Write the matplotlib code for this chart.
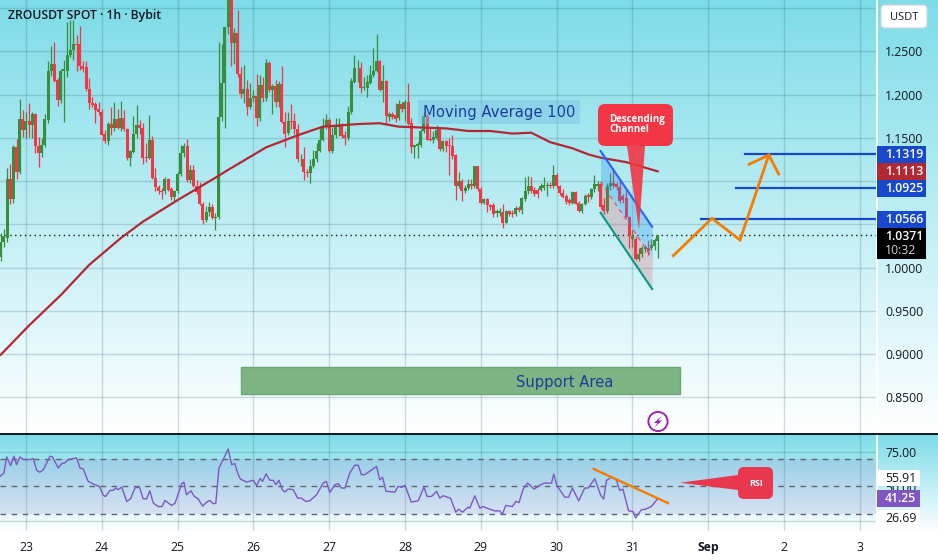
import matplotlib
matplotlib.use('Agg')
import matplotlib.pyplot as plt
import numpy as np
from matplotlib.patches import FancyBboxPatch, Polygon, Rectangle, Circle

plt.rcParams['font.family'] = ['Open Sans', 'DejaVu Sans']

# hourly candles, first one is 8h before the 23rd
opens = [1.012, 1.030, 1.034, 1.102, 1.079, 1.140, 1.111, 1.172, 1.159, 1.169,
         1.165, 1.178, 1.141, 1.133, 1.142, 1.171, 1.227, 1.235, 1.217, 1.194,
         1.227, 1.227, 1.246, 1.252, 1.259, 1.259, 1.233, 1.232, 1.207, 1.190,
         1.189, 1.183, 1.180, 1.154, 1.146, 1.166, 1.162, 1.172, 1.162, 1.173,
         1.160, 1.127, 1.134, 1.154, 1.165, 1.161, 1.128, 1.127, 1.148, 1.104,
         1.093, 1.089, 1.088, 1.102, 1.091, 1.082, 1.088, 1.108, 1.132, 1.141,
         1.101, 1.113, 1.094, 1.093, 1.074, 1.055, 1.064, 1.070, 1.057, 1.058,
         1.174, 1.213, 1.278, 1.320, 1.260, 1.271, 1.224, 1.201, 1.207, 1.186,
         1.196, 1.198, 1.173, 1.211, 1.196, 1.237, 1.205, 1.210, 1.191, 1.212,
         1.168, 1.156, 1.169, 1.169, 1.160, 1.125, 1.126, 1.111, 1.109, 1.117,
         1.125, 1.135, 1.148, 1.164, 1.171, 1.135, 1.153, 1.163, 1.165, 1.153,
         1.150, 1.180, 1.215, 1.231, 1.231, 1.208, 1.208, 1.214, 1.223, 1.228,
         1.239, 1.206, 1.216, 1.174, 1.178, 1.177, 1.173, 1.189, 1.183, 1.192,
         1.167, 1.139, 1.141, 1.142, 1.158, 1.175, 1.149, 1.147, 1.150, 1.160,
         1.137, 1.146, 1.142, 1.141, 1.130, 1.094, 1.100, 1.088, 1.092, 1.097,
         1.094, 1.117, 1.091, 1.075, 1.079, 1.072, 1.072, 1.063, 1.063, 1.064,
         1.052, 1.065, 1.063, 1.062, 1.069, 1.067, 1.079, 1.088, 1.094, 1.090,
         1.090, 1.090, 1.092, 1.094, 1.095, 1.094, 1.107, 1.094, 1.086, 1.083,
         1.078, 1.075, 1.087, 1.075, 1.065, 1.074, 1.084, 1.082, 1.091, 1.094,
         1.097, 1.072, 1.065, 1.094, 1.098, 1.097, 1.093, 1.083, 1.080, 1.059,
         1.033, 1.033, 1.010, 1.016, 1.021, 1.023, 1.022, 1.025, 1.031]
highs = [1.040, 1.045, 1.115, 1.120, 1.142, 1.149, 1.195, 1.182, 1.180, 1.190,
         1.180, 1.179, 1.151, 1.150, 1.178, 1.239, 1.256, 1.261, 1.219, 1.230,
         1.240, 1.284, 1.286, 1.286, 1.269, 1.279, 1.239, 1.239, 1.219, 1.197,
         1.192, 1.192, 1.184, 1.159, 1.168, 1.186, 1.192, 1.184, 1.193, 1.182,
         1.161, 1.136, 1.175, 1.188, 1.171, 1.167, 1.144, 1.176, 1.152, 1.115,
         1.095, 1.092, 1.105, 1.104, 1.093, 1.090, 1.110, 1.142, 1.144, 1.149,
         1.119, 1.119, 1.101, 1.099, 1.076, 1.071, 1.076, 1.073, 1.063, 1.261,
         1.259, 1.278, 1.330, 1.335, 1.277, 1.298, 1.232, 1.234, 1.217, 1.213,
         1.205, 1.224, 1.223, 1.220, 1.241, 1.239, 1.212, 1.217, 1.216, 1.233,
         1.180, 1.180, 1.189, 1.179, 1.166, 1.131, 1.140, 1.114, 1.126, 1.136,
         1.144, 1.161, 1.173, 1.178, 1.173, 1.163, 1.173, 1.173, 1.167, 1.158,
         1.187, 1.219, 1.246, 1.240, 1.238, 1.220, 1.223, 1.234, 1.254, 1.270,
         1.240, 1.234, 1.217, 1.180, 1.180, 1.190, 1.194, 1.192, 1.194, 1.213,
         1.173, 1.142, 1.145, 1.160, 1.180, 1.178, 1.161, 1.158, 1.165, 1.161,
         1.148, 1.148, 1.150, 1.153, 1.131, 1.111, 1.102, 1.096, 1.103, 1.102,
         1.118, 1.118, 1.093, 1.081, 1.081, 1.074, 1.075, 1.068, 1.069, 1.074,
         1.067, 1.067, 1.066, 1.071, 1.071, 1.082, 1.105, 1.106, 1.105, 1.093,
         1.092, 1.098, 1.105, 1.099, 1.099, 1.119, 1.109, 1.096, 1.091, 1.085,
         1.080, 1.088, 1.088, 1.077, 1.075, 1.085, 1.086, 1.092, 1.107, 1.100,
         1.099, 1.080, 1.098, 1.109, 1.115, 1.099, 1.103, 1.085, 1.090, 1.060,
         1.043, 1.036, 1.022, 1.025, 1.026, 1.032, 1.033, 1.034, 1.038]
lows = [1.008, 1.024, 1.030, 1.074, 1.075, 1.103, 1.108, 1.151, 1.150, 1.151,
        1.150, 1.132, 1.116, 1.128, 1.140, 1.167, 1.222, 1.215, 1.187, 1.190,
        1.168, 1.221, 1.244, 1.240, 1.228, 1.229, 1.226, 1.204, 1.184, 1.186,
        1.167, 1.177, 1.153, 1.144, 1.142, 1.153, 1.158, 1.160, 1.158, 1.158,
        1.124, 1.118, 1.132, 1.150, 1.155, 1.120, 1.122, 1.125, 1.103, 1.088,
        1.085, 1.079, 1.085, 1.088, 1.078, 1.077, 1.086, 1.106, 1.128, 1.099,
        1.098, 1.093, 1.085, 1.072, 1.050, 1.053, 1.060, 1.056, 1.043, 1.056,
        1.170, 1.161, 1.270, 1.233, 1.235, 1.220, 1.196, 1.190, 1.176, 1.183,
        1.192, 1.164, 1.170, 1.192, 1.193, 1.203, 1.178, 1.186, 1.186, 1.167,
        1.140, 1.153, 1.160, 1.155, 1.122, 1.118, 1.101, 1.105, 1.098, 1.115,
        1.122, 1.134, 1.146, 1.160, 1.134, 1.133, 1.150, 1.152, 1.150, 1.142,
        1.148, 1.178, 1.213, 1.215, 1.202, 1.206, 1.197, 1.212, 1.221, 1.226,
        1.204, 1.192, 1.166, 1.170, 1.172, 1.168, 1.171, 1.180, 1.170, 1.165,
        1.133, 1.127, 1.127, 1.140, 1.156, 1.147, 1.146, 1.144, 1.148, 1.135,
        1.135, 1.134, 1.107, 1.126, 1.078, 1.092, 1.077, 1.086, 1.090, 1.091,
        1.092, 1.088, 1.074, 1.073, 1.064, 1.066, 1.059, 1.058, 1.060, 1.046,
        1.051, 1.060, 1.058, 1.060, 1.064, 1.062, 1.077, 1.085, 1.086, 1.083,
        1.080, 1.088, 1.090, 1.083, 1.092, 1.092, 1.092, 1.084, 1.081, 1.074,
        1.072, 1.074, 1.073, 1.064, 1.063, 1.072, 1.076, 1.079, 1.087, 1.088,
        1.068, 1.062, 1.063, 1.090, 1.092, 1.090, 1.075, 1.075, 1.057, 1.022,
        1.024, 1.009, 1.008, 1.012, 1.018, 1.015, 1.020, 1.020, 1.011]
closes = [1.030, 1.036, 1.102, 1.079, 1.140, 1.111, 1.172, 1.159, 1.169, 1.165,
          1.178, 1.141, 1.133, 1.142, 1.172, 1.227, 1.235, 1.216, 1.194, 1.227,
          1.230, 1.246, 1.252, 1.259, 1.258, 1.233, 1.230, 1.207, 1.190, 1.188,
          1.182, 1.180, 1.153, 1.146, 1.166, 1.162, 1.172, 1.162, 1.173, 1.160,
          1.127, 1.135, 1.154, 1.165, 1.161, 1.127, 1.127, 1.148, 1.104, 1.093,
          1.088, 1.087, 1.102, 1.090, 1.082, 1.088, 1.108, 1.132, 1.141, 1.101,
          1.113, 1.094, 1.087, 1.074, 1.055, 1.064, 1.070, 1.057, 1.059, 1.174,
          1.213, 1.278, 1.320, 1.260, 1.271, 1.224, 1.201, 1.207, 1.186, 1.196,
          1.198, 1.173, 1.211, 1.196, 1.237, 1.205, 1.210, 1.191, 1.212, 1.168,
          1.155, 1.169, 1.168, 1.160, 1.125, 1.126, 1.111, 1.109, 1.117, 1.125,
          1.135, 1.148, 1.164, 1.171, 1.135, 1.153, 1.164, 1.165, 1.152, 1.150,
          1.180, 1.216, 1.231, 1.231, 1.208, 1.209, 1.215, 1.223, 1.228, 1.239,
          1.206, 1.216, 1.175, 1.178, 1.174, 1.172, 1.189, 1.184, 1.192, 1.166,
          1.139, 1.142, 1.143, 1.158, 1.175, 1.148, 1.148, 1.151, 1.159, 1.137,
          1.146, 1.141, 1.141, 1.129, 1.094, 1.100, 1.088, 1.092, 1.097, 1.094,
          1.117, 1.091, 1.075, 1.079, 1.072, 1.070, 1.062, 1.065, 1.065, 1.052,
          1.065, 1.062, 1.062, 1.069, 1.066, 1.080, 1.088, 1.094, 1.089, 1.085,
          1.085, 1.094, 1.095, 1.095, 1.094, 1.107, 1.094, 1.086, 1.082, 1.076,
          1.075, 1.087, 1.074, 1.065, 1.074, 1.083, 1.082, 1.091, 1.097, 1.097,
          1.070, 1.065, 1.094, 1.098, 1.094, 1.093, 1.077, 1.078, 1.059, 1.036,
          1.037, 1.010, 1.016, 1.023, 1.024, 1.019, 1.026, 1.032, 1.0371]

# moving average 100, read at the bends (hours after the 23rd, price)
ma_hours = [-8, 1, 11, 20, 30, 37, 48, 60, 64, 76, 86, 94, 105, 112, 118, 133, 140,
            147, 154, 160, 166, 173, 178, 182, 190, 200]
ma_values = [0.899, 0.933, 0.968, 1.003, 1.034, 1.053, 1.078, 1.104, 1.113, 1.139,
             1.153, 1.163, 1.166, 1.167, 1.163, 1.161, 1.158, 1.158, 1.155, 1.156,
             1.145, 1.138, 1.131, 1.127, 1.122, 1.1113]

# rsi, read at the bends
rsi_hours = [-8.2, -7, -6.1, -4.9, -3.8, -3, -1.9, -0.8, 1.3, 2.3, 3.4, 4.4, 5.5, 7.6, 8.4,
             10.2, 11.3, 12.3, 13.4, 16, 17.1, 18.1, 19.7, 21.8, 23.2, 24.5, 25.2, 26.6,
             27.6, 28.4, 29.2, 30.3, 31.9, 33.1, 34.5, 35.9, 37.1, 38.2, 39.2, 40.3, 41.9,
             43.1, 44, 46.1, 47.2, 49.3, 50, 50.8, 52.2, 53.3, 54.5, 55.9, 57.2, 58.2,
             59.3, 60.1, 61.1, 62.7, 64, 65.1, 66.1, 67.2, 67.9, 69.8, 72, 73, 74.1, 74.9,
             76, 77.2, 78.3, 79.1, 80.1, 81.1, 82, 83, 84.6, 86, 87.2, 88.6, 89.9, 92,
             94.1, 95.1, 96.2, 97.8, 98.9, 99.9, 101, 102.5, 104.1, 105.2, 106.2, 107.3,
             111, 112, 112.9, 114, 116.8, 117.8, 118.9, 120, 122, 124.2, 126, 127, 128.4,
             130, 131, 132.1, 134.4, 136.1, 137, 138.2, 140, 140.5, 142.1, 143.7, 144.7,
             146.8, 148.4, 150, 150.8, 151.9, 154, 155.1, 156.1, 157.4, 158.8, 160.9,
             162.7, 164.2, 166.4, 167.1, 168.1, 170.6, 171.8, 173, 175, 176.9, 178, 180.1,
             181.9, 182.9, 183.8, 185.3, 186.9, 188, 189, 190.8, 192.2, 193, 194.8, 196.1,
             198, 200.1]
rsi_values = [57.2, 59.6, 71.2, 64.9, 71.7, 65.6, 71.2, 69.3, 69.3, 70, 61.5, 60.1, 62, 71.7, 71.2,
              63.2, 66.4, 66.9, 69.3, 70.5, 63.2, 62.5, 53.5, 51.1, 49.9, 43.4, 42.6, 47,
              47, 48.7, 47.5, 49.4, 39, 40.9, 48.7, 49.4, 40.9, 40.9, 46.7, 37.8, 35.3,
              35.3, 39.7, 36.1, 37.8, 51.8, 53, 43.8, 46.7, 42.6, 40.9, 35.6, 38.5, 39.7,
              37.3, 37.8, 63.2, 70.5, 77, 65.6, 66.4, 58.4, 55.2, 53, 54.3, 50.4, 55.5, 53.5,
              58.9, 54.3, 54.3, 51.1, 54.3, 47.5, 45.8, 48, 47.5, 41.4, 41.4, 39, 39.5, 43.8,
              52.3, 53.5, 45.5, 51.1, 51.8, 48.7, 48.7, 59.6, 65.2, 65.2, 58.4, 58.4,
              64.4, 54.7, 56.4, 46.3, 45.8, 49.9, 49.2, 50.6, 38.5, 39.5, 49.4, 42.6, 42.6,
              46.3, 41.4, 43.1, 41.4, 31.2, 33.4, 31.2, 34.9, 34.1, 43.1, 34.1, 35.3,
              33.4, 32.2, 32.2, 29.5, 36.1, 35.3, 39, 38.2, 47.9, 52.3, 47.9,
              50.8, 52.3, 52.3, 58.8, 50.4, 42.1, 42.1, 48.7, 39.4, 48.7, 48.7, 55.5,
              43.8, 40.7, 54.2, 56.4, 54.7, 47, 47.9, 32.2, 31.7, 27.1, 32.9, 33.4,
              35.3, 41.25]

price_ticks = [0.85, 0.90, 0.95, 1.00, 1.05, 1.10, 1.15, 1.20, 1.25, 1.30]
price_labels = ['0.8500', '0.9000', '0.9500', '1.0000', '', '', '1.1500', '1.2000', '1.2500', '']
day_ticks = [23, 24, 25, 26, 27, 28, 29, 30, 31, 32, 33, 34]
day_labels = ['23', '24', '25', '26', '27', '28', '29', '30', '31', 'Sep', '2', '3']
last_price = 1.0371
levels = [1.0566, 1.0925, 1.1319]
level_starts = [31.905, 32.37, 32.49]

# drawn objects, x in days
channel_x = [30.58, 31.26]
channel_upper = [1.1348, 1.0472]
channel_lower = [1.0634, 0.9751]
zigzag_x = [31.54, 32.05, 32.42, 32.80]
zigzag_y = [1.0137, 1.0569, 1.0318, 1.1302]
head_x = [32.54, 32.80, 32.93]
head_y = [1.1194, 1.1302, 1.1082]
support_x = [25.83, 31.63]
support_y = [0.8536, 0.8848]
rsi_trend_x = [30.49, 31.47]
rsi_trend_y = [62.5, 37.8]

GREEN = '#388E3C'
RED = '#F23645'
BLUE = '#1848CC'
ORANGE = '#F57C00'
PURPLE = '#7E57C2'
GRID = '#2F6470'
TICK_SIZE = 8.8

fig = plt.figure(figsize=(9.38, 5.6), dpi=100)

# background gradients
bg = fig.add_axes([0, 0, 1, 1], zorder=0)
bg.axis('off')
top = np.array([125, 220, 232]) / 255
white = np.ones(3)
grad1 = np.linspace(0, 1, 200)[:, None, None] * (white - top) + top
bg.imshow(grad1, extent=[0, 938, 434, 0], aspect='auto')
bg.imshow(grad1, extent=[0, 938, 533, 434], aspect='auto')
bg.set_xlim(0, 938)
bg.set_ylim(560, 0)

W, H = 938.0, 560.0
ax = fig.add_axes([0, 1 - 434 / H, 877 / W, 434 / H], zorder=1)
rsi_ax = fig.add_axes([0, 1 - 531 / H, 877 / W, 97 / H], zorder=1)
for a in (ax, rsi_ax):
    a.patch.set_visible(False)
    for s in a.spines.values():
        s.set_visible(False)
    a.set_xlim(22.657, 34.227)
    a.set_xticks(day_ticks)
    a.yaxis.tick_right()
    a.grid(True, color=GRID, alpha=0.22, lw=1)
    a.set_axisbelow(True)
    a.tick_params(length=0)

ax.set_ylim(0.8073, 1.3096)
ax.set_yticks(price_ticks)
ax.set_yticklabels(price_labels, fontsize=TICK_SIZE, color='#131722')
ax.tick_params(axis='y', pad=6)
ax.tick_params(axis='x', labelbottom=False)

# candles
opens = np.array(opens)
closes = np.array(closes)
highs = np.array(highs)
lows = np.array(lows)
days = 23 + np.arange(-8, len(opens) - 8) / 24
colors = np.where(closes >= opens, GREEN, RED)
ax.vlines(days, lows, highs, colors=colors, lw=0.9, zorder=3)
ax.bar(days, np.abs(closes - opens), bottom=np.minimum(opens, closes), width=0.95 / 24,
       color=colors, zorder=3, linewidth=0)

# moving average
ax.plot(23 + np.array(ma_hours) / 24, ma_values, color='#B22833', lw=1.6, zorder=4)

# last price
ax.axhline(last_price, color='#131722', lw=1, ls=(0, (1, 2.5)), zorder=2)

# channel
mid = [(u + l) / 2 for u, l in zip(channel_upper, channel_lower)]
ax.fill_between(channel_x, mid, channel_upper, color='#2196F3', alpha=0.3, lw=0, zorder=5)
ax.fill_between(channel_x, channel_lower, mid, color='#F23645', alpha=0.2, lw=0, zorder=5)
ax.plot(channel_x, mid, color=RED, lw=1, ls=(0, (3, 3)), alpha=0.7, zorder=5)
ax.plot(channel_x, channel_upper, color='#2962FF', lw=1.5, zorder=6)
ax.plot(channel_x, channel_lower, color='#089981', lw=1.5, zorder=6)

# target levels
for lv, st in zip(levels, level_starts):
    ax.plot([st, 34.227], [lv, lv], color=BLUE, lw=1.6, zorder=6)

# forecast arrow
ax.plot(zigzag_x, zigzag_y, color=ORANGE, lw=2, zorder=7, solid_joinstyle='miter')
ax.plot(head_x, head_y, color=ORANGE, lw=2, zorder=7, solid_joinstyle='miter')

# support box
ax.add_patch(Rectangle((support_x[0], support_y[0]), support_x[1] - support_x[0],
                       support_y[1] - support_y[0], facecolor='#7CB483', edgecolor='#6AA873',
                       lw=1, zorder=3))

# rsi pane
rsi_ax.set_ylim(17.6, 87.8)
rsi_ax.set_yticks([25, 75])
rsi_ax.set_yticklabels(['', '75.00'], fontsize=TICK_SIZE, color='#131722')
rsi_ax.tick_params(axis='y', pad=6)
rsi_ax.set_xticklabels(day_labels, fontsize=TICK_SIZE, color='#131722')
rsi_ax.tick_params(axis='x', pad=7)
rsi_ax.get_xticklabels()[9].set_fontweight('bold')
rsi_ax.axhspan(30, 70, color=PURPLE, alpha=0.14, lw=0, zorder=1)
for lv in (30, 50, 70):
    rsi_ax.axhline(lv, color='#5E6470', lw=1, ls=(0, (4, 4)), zorder=2)
rsi_ax.plot(23 + np.array(rsi_hours) / 24, rsi_values, color=PURPLE, lw=1, zorder=3)
rsi_ax.plot(rsi_trend_x, rsi_trend_y, color=ORANGE, lw=1.7, zorder=4)

# overlay in pixels for the scale badges and callouts
ov = fig.add_axes([0, 0, 1, 1], zorder=3)
ov.axis('off')
ov.set_xlim(0, W)
ov.set_ylim(H, 0)

ov.plot([877, 877], [0, 531], color='white', lw=1.3)
ov.plot([0, W], [434.3, 434.3], color='#131722', lw=1.4)

ov.text(8, 16, 'ZROUSDT SPOT · 1h · Bybit', fontsize=8.8, color='#131722', va='center', fontweight='semibold')


def badge(y0, y1, text, color, x1=926, tc='white', fw='semibold'):
    ov.add_patch(Rectangle((877, y0), x1 - 877, y1 - y0, facecolor=color, edgecolor='none', zorder=5))
    ov.text(885, (y0 + y1) / 2, text, color=tc, fontsize=TICK_SIZE, va='center', fontweight=fw, zorder=6)


badge(146, 163, '1.1319', BLUE)
badge(163, 179.5, '1.1113', '#B22833')
badge(179.5, 197, '1.0925', BLUE)
badge(211, 228, '1.0566', BLUE)
ov.add_patch(Rectangle((877, 228), 49, 31, facecolor='black', edgecolor='none', zorder=5))
ov.text(885, 236.5, '1.0371', color='white', fontsize=TICK_SIZE, va='center', fontweight='semibold', zorder=6)
ov.text(885, 251, '10:32', color='#D1D4DC', fontsize=TICK_SIZE, va='center', zorder=6)

ov.text(885, 488.5, '50.00', color='#131722', fontsize=TICK_SIZE, va='center', zorder=4)
badge(470, 486, '55.91', 'white', x1=920, tc='#131722', fw='normal')
badge(490, 507, '41.25', PURPLE, x1=920)
badge(510, 527, '26.69', 'white', x1=920, tc='#131722', fw='normal')

ov.add_patch(FancyBboxPatch((881, 5), 46, 23, boxstyle='round,pad=0,rounding_size=4',
                            facecolor='white', edgecolor='#D1D4DC', lw=0.8, zorder=5))
ov.text(904, 17, 'USDT', color='#131722', fontsize=8, ha='center', va='center', zorder=6)

# callouts
ov.add_patch(Polygon([(627, 146), (645, 146), (639, 230)], closed=True, facecolor=RED,
                     edgecolor='none', alpha=0.9, zorder=5))
ov.add_patch(FancyBboxPatch((598, 104), 75, 42, boxstyle='round,pad=0,rounding_size=7',
                            facecolor=RED, edgecolor='none', zorder=5))
ov.text(609, 124.5, 'Descending\nChannel', color='white', fontsize=7, va='center', fontweight='bold',
        linespacing=0.95, zorder=6)

ov.add_patch(Polygon([(738, 475), (738, 490), (680, 482.7)], closed=True, facecolor='#E8374F',
                     edgecolor='none', zorder=5))
ov.add_patch(FancyBboxPatch((738, 467), 35, 32, boxstyle='round,pad=0,rounding_size=6',
                            facecolor='#E8374F', edgecolor='none', zorder=5))
ov.text(756, 483, 'RSI', color='white', fontsize=6.5, ha='center', va='center', fontweight='bold', zorder=6)

# text labels
ov.text(499, 112, 'Moving Average 100', family='DejaVu Sans', fontsize=10.6, color='#1A3E9C', ha='center',
        va='center', zorder=5, bbox=dict(facecolor='#78BEE6', alpha=0.45, edgecolor='none', pad=3.5))
ov.text(565, 383, 'Support Area', family='DejaVu Sans', fontsize=10.6, color='#1A3E9C', ha='center',
        va='center', zorder=5)

# lightning badge
ov.add_patch(Circle((658, 421.5), 9.6, facecolor='none', edgecolor='#9C27B0', lw=1.4, zorder=5))
ov.add_patch(Polygon([(661.5, 416), (654, 423), (657.5, 423), (654.5, 427.5), (662, 420.5), (658.5, 420.5)],
                     closed=True, facecolor='#9C27B0', edgecolor='none', zorder=6))

fig.savefig('out.png', dpi=100)
